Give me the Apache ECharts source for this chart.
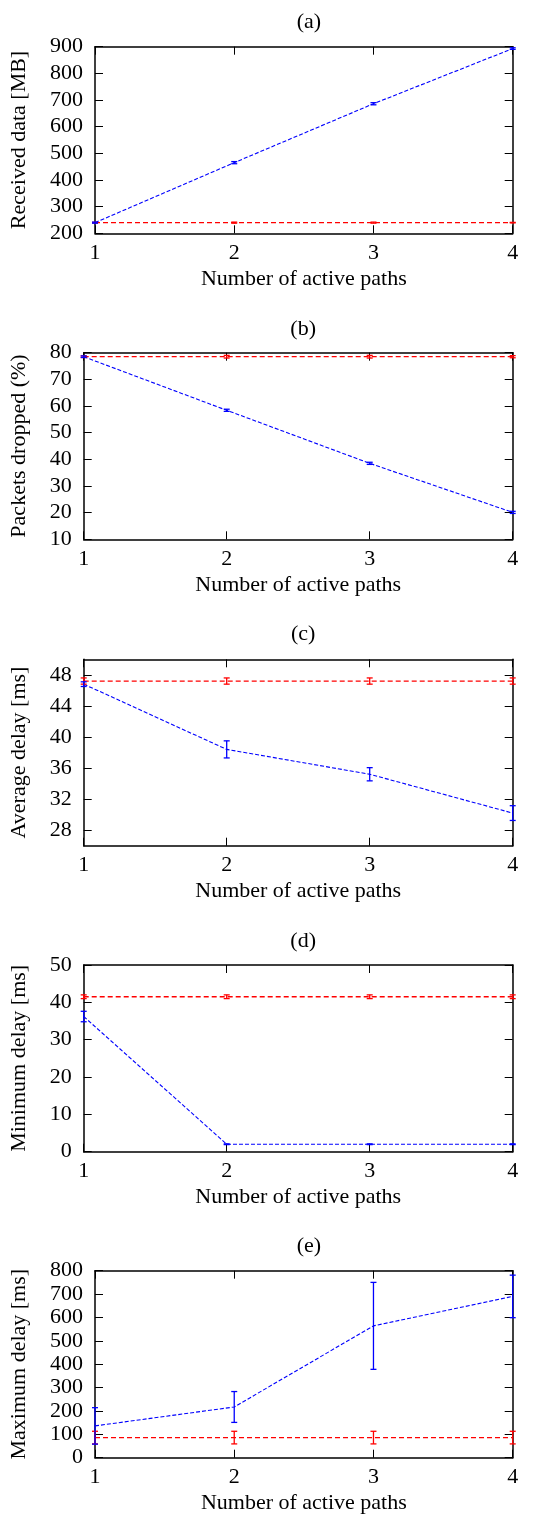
<!DOCTYPE html>
<html><head><meta charset="utf-8">
<script src="https://cdn.jsdelivr.net/npm/echarts@6/dist/echarts.min.js"></script>
<style>html,body{margin:0;padding:0;background:#fff}#c{width:553px;height:1517px}</style>
</head><body><div id="c"></div>
<script>
const paths = [1, 2, 3, 4];
const xTicks = [1, 2, 3, 4];
const panelTitles = ['(a)', '(b)', '(c)', '(d)', '(e)'];
const yNames = ['Received data [MB]', 'Packets dropped (%)', 'Average delay [ms]', 'Minimum delay [ms]', 'Maximum delay [ms]'];
const xName = 'Number of active paths';

// (a) Received data
const aBlue = [240, 465, 686, 893];
const aBlueErr = [2, 4, 4, 3];
const aRed = [240, 240, 240, 240];
const aRedErr = [1, 2, 2, 1];
// (b) Packets dropped
const bBlue = [78.5, 58.4, 38.5, 20.1];
const bBlueErr = [0.3, 0.4, 0.4, 0.4];
const bRed = [78.5, 78.5, 78.5, 78.5];
const bRedErr = [0.3, 0.5, 0.5, 0.4];
// (c) Average delay
const cBlue = [46.8, 38.4, 35.2, 30.2];
const cBlueErr = [0.3, 1.1, 0.85, 0.95];
const cRed = [47.2, 47.2, 47.2, 47.2];
const cRedErr = [0.4, 0.4, 0.4, 0.4];
// (d) Minimum delay
const dBlue = [36.2, 2.0, 2.0, 2.0];
const dBlueErr = [1.4, 0.1, 0.1, 0.1];
const dRed = [41.5, 41.5, 41.5, 41.5];
const dRedErr = [0.5, 0.5, 0.5, 0.5];
// (e) Maximum delay
const eBlue = [136, 217, 564, 690];
const eBlueErr = [78, 66, 186, 91];
const eRed = [86, 86, 86, 86];
const eRedErr = [27, 27, 27, 27];

const yRanges = [
  {min: 200, max: 900, ticks: [200, 300, 400, 500, 600, 700, 800, 900]},
  {min: 10, max: 80, ticks: [10, 20, 30, 40, 50, 60, 70, 80]},
  {min: 26, max: 50, ticks: [28, 32, 36, 40, 44, 48]},
  {min: 0, max: 50, ticks: [0, 10, 20, 30, 40, 50]},
  {min: 0, max: 800, ticks: [0, 100, 200, 300, 400, 500, 600, 700, 800]}
];
const seriesData = [
  [aBlue, aBlueErr, aRed, aRedErr],
  [bBlue, bBlueErr, bRed, bRedErr],
  [cBlue, cBlueErr, cRed, cRedErr],
  [dBlue, dBlueErr, dRed, dRedErr],
  [eBlue, eBlueErr, eRed, eRedErr]
];

const grids = [
  {left: 95, top: 46.7, width: 417.7, height: 186.6},
  {left: 83.7, top: 352.7, width: 429, height: 186.6},
  {left: 83.7, top: 659.3, width: 429, height: 186.4},
  {left: 83.7, top: 965, width: 429, height: 186.7},
  {left: 95, top: 1270.7, width: 417.7, height: 187}
];
const titleTops = [18, 325, 630, 937, 1242];

const FONT = 'Liberation Serif';
const FS = 22;
const BLUE = '#0000ff', RED = '#ff0000';

const option = {animation: false, backgroundColor: '#fff', title: [], grid: [], xAxis: [], yAxis: [], series: []};

function errSeries(xi, yi, vals, errs, color) {
  return {
    type: 'custom', xAxisIndex: xi, yAxisIndex: yi, clip: false, z: 3,
    data: paths.map((p, i) => [p, vals[i], errs[i]]),
    renderItem: function (params, api) {
      const x = api.value(0), y = api.value(1), e = api.value(2);
      const lo = api.coord([x, y - e]), hi = api.coord([x, y + e]);
      const w = 3;
      const st = {stroke: color, lineWidth: 1.3};
      return {type: 'group', children: [
        {type: 'line', shape: {x1: lo[0], y1: lo[1], x2: hi[0], y2: hi[1]}, style: st},
        {type: 'line', shape: {x1: lo[0] - w, y1: lo[1], x2: lo[0] + w, y2: lo[1]}, style: st},
        {type: 'line', shape: {x1: hi[0] - w, y1: hi[1], x2: hi[0] + w, y2: hi[1]}, style: st}
      ]};
    }
  };
}

grids.forEach((g, k) => {
  option.grid.push(Object.assign({containLabel: false}, g));
  option.title.push({
    text: panelTitles[k], left: g.left + g.width / 2, top: titleTops[k] - 12, textAlign: 'center',
    textStyle: {fontFamily: FONT, fontSize: FS, fontWeight: 'normal', color: '#000'}
  });
  const axLine = {show: true, onZero: false, lineStyle: {color: '#000', width: 1.5}};
  const tick = {show: true, inside: true, length: 8, lineStyle: {color: '#000', width: 1}};
  option.xAxis.push({
    type: 'value', gridIndex: k, min: 1, max: 4, interval: 1, position: 'bottom',
    name: xName, nameLocation: 'middle', nameGap: 35,
    nameTextStyle: {fontFamily: FONT, fontSize: FS, color: '#000'},
    axisLine: axLine, axisTick: tick, splitLine: {show: false},
    axisLabel: {fontFamily: FONT, fontSize: FS, color: '#000', margin: 9, customValues: xTicks},
  });
  option.xAxis.push({
    type: 'value', gridIndex: k, min: 1, max: 4, interval: 1, position: 'top',
    axisLine: axLine, axisTick: tick, splitLine: {show: false}, axisLabel: {show: false}
  });
  const r = yRanges[k];
  const lgap = g.left - 30;
  option.yAxis.push({
    type: 'value', gridIndex: k, min: r.min, max: r.max, position: 'left',
    name: yNames[k], nameLocation: 'middle', nameGap: lgap, nameRotate: 90,
    nameTextStyle: {fontFamily: FONT, fontSize: FS, color: '#000'},
    axisLine: axLine, axisTick: Object.assign({}, tick, {customValues: r.ticks}), splitLine: {show: false},
    axisLabel: {fontFamily: FONT, fontSize: FS, color: '#000', margin: 12, customValues: r.ticks}
  });
  option.yAxis.push({
    type: 'value', gridIndex: k, min: r.min, max: r.max, position: 'right',
    axisLine: axLine, axisTick: Object.assign({}, tick, {customValues: r.ticks}), splitLine: {show: false},
    axisLabel: {show: false}
  });
  const xi = 2 * k, yi = 2 * k;
  const [bv, be, rv, re] = seriesData[k];
  option.series.push({
    type: 'line', xAxisIndex: xi, yAxisIndex: yi, data: paths.map((p, i) => [p, rv[i]]),
    symbol: 'none', clip: false, z: 2,
    lineStyle: {color: RED, width: 1.3, type: [5, 3]}
  });
  option.series.push({
    type: 'line', xAxisIndex: xi, yAxisIndex: yi, data: paths.map((p, i) => [p, bv[i]]),
    symbol: 'none', clip: false, z: 2,
    lineStyle: {color: BLUE, width: 1.1, type: [4, 2]}
  });
  option.series.push(errSeries(xi, yi, rv, re, RED));
  option.series.push(errSeries(xi, yi, bv, be, BLUE));
});

const chart = echarts.init(document.getElementById('c'), null, {renderer: 'canvas'});
chart.setOption(option);
</script></body></html>
